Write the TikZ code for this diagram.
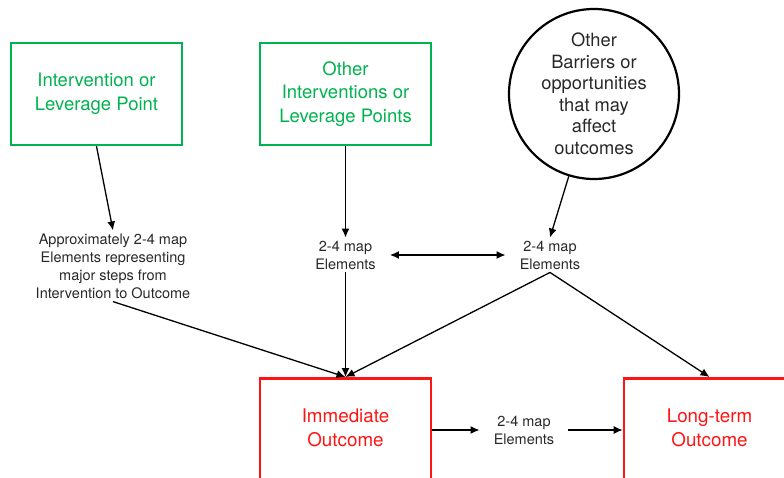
\documentclass[tikz,border=0pt]{standalone}
\usepackage{fontspec}
\setmainfont{TeX Gyre Heros}
\usetikzlibrary{arrows.meta}
\definecolor{levgreen}{RGB}{0,178,80}
\definecolor{outred}{RGB}{255,20,20}
\definecolor{inkgray}{RGB}{40,40,40}
\tikzset{
  x=1pt, y=-1pt,
  greenbox/.style={draw=levgreen, line width=2.6pt, minimum width=171pt, minimum height=102pt,
    text=levgreen, align=center, font=\fontsize{18.5}{23.5}\selectfont},
  redbox/.style={draw=outred, line width=2.6pt, minimum width=171pt, minimum height=160pt, anchor=north},
  redlabel/.style={text=outred, align=center, font=\fontsize{18.8}{24}\selectfont},
  barrier/.style={draw=black, circle, line width=2.2pt, minimum size=170pt, inner sep=0pt,
    text=inkgray, align=center, font=\fontsize{18.3}{21.5}\selectfont},
  element/.style={text=inkgray, align=center, inner xsep=14pt, inner ysep=3pt,
    font=\fontsize{14.5}{18}\selectfont},
  link/.style={line width=1.3pt, -{Latex[length=9pt,width=8pt]}},
  biarrow/.style={line width=1.3pt, {Latex[length=9pt,width=8pt]}-{Latex[length=9pt,width=8pt]}},
}
\begin{document}
\begin{tikzpicture}
\useasboundingbox (0,0) rectangle (784,478);
\clip (0,0) rectangle (784,478);

% top row: leverage points and outside influences
\node[greenbox] (lev) at (96.5,94) {Intervention or\\Leverage Point};
\node[greenbox] (otherlev) at (345.5,94) {Other\\Interventions or\\Leverage Points};
\node[barrier] (barr) at (594,94) {Other\\Barriers or\\opportunities\\that may\\affect\\outcomes};

% intermediate map elements
\node[element] (el1) at (113,266) {Approximately 2-4 map\\Elements representing\\major steps from\\Intervention to Outcome};
\node[element] (el2) at (345.5,255) {2-4 map\\Elements};
\node[element] (el3) at (550,255) {2-4 map\\Elements};

% outcomes (boxes run past the lower edge)
\node[redbox] (imm) at (345.5,377) {};
\node[redlabel] (immtext) at (345.5,428) {Immediate\\Outcome};
\node[redbox] (longterm) at (709.5,377) {};
\node[redlabel] (longtext) at (709.5,428) {Long-term\\Outcome};
\node[element] (el4) at (524,430) {2-4 map\\Elements};

% connectors
\draw[link] (lev.south) -- (el1.north);
\draw[link] (otherlev.south) -- (el2.north);
\draw[link] (barr) -- (el3.north);
\draw[biarrow] (el2.east) -- (el3.west);
\draw[link] (el1.south) -- (imm.north);
\draw[link] (el2.south) -- (imm.north);
\draw[link] (el3.south) -- (imm.north);
\draw[link] (el3.south) -- (longterm.north);
\draw[link] (imm.east |- el4) -- (el4.west);
\draw[link] (el4.east) -- (longterm.west |- el4);
\end{tikzpicture}
\end{document}
